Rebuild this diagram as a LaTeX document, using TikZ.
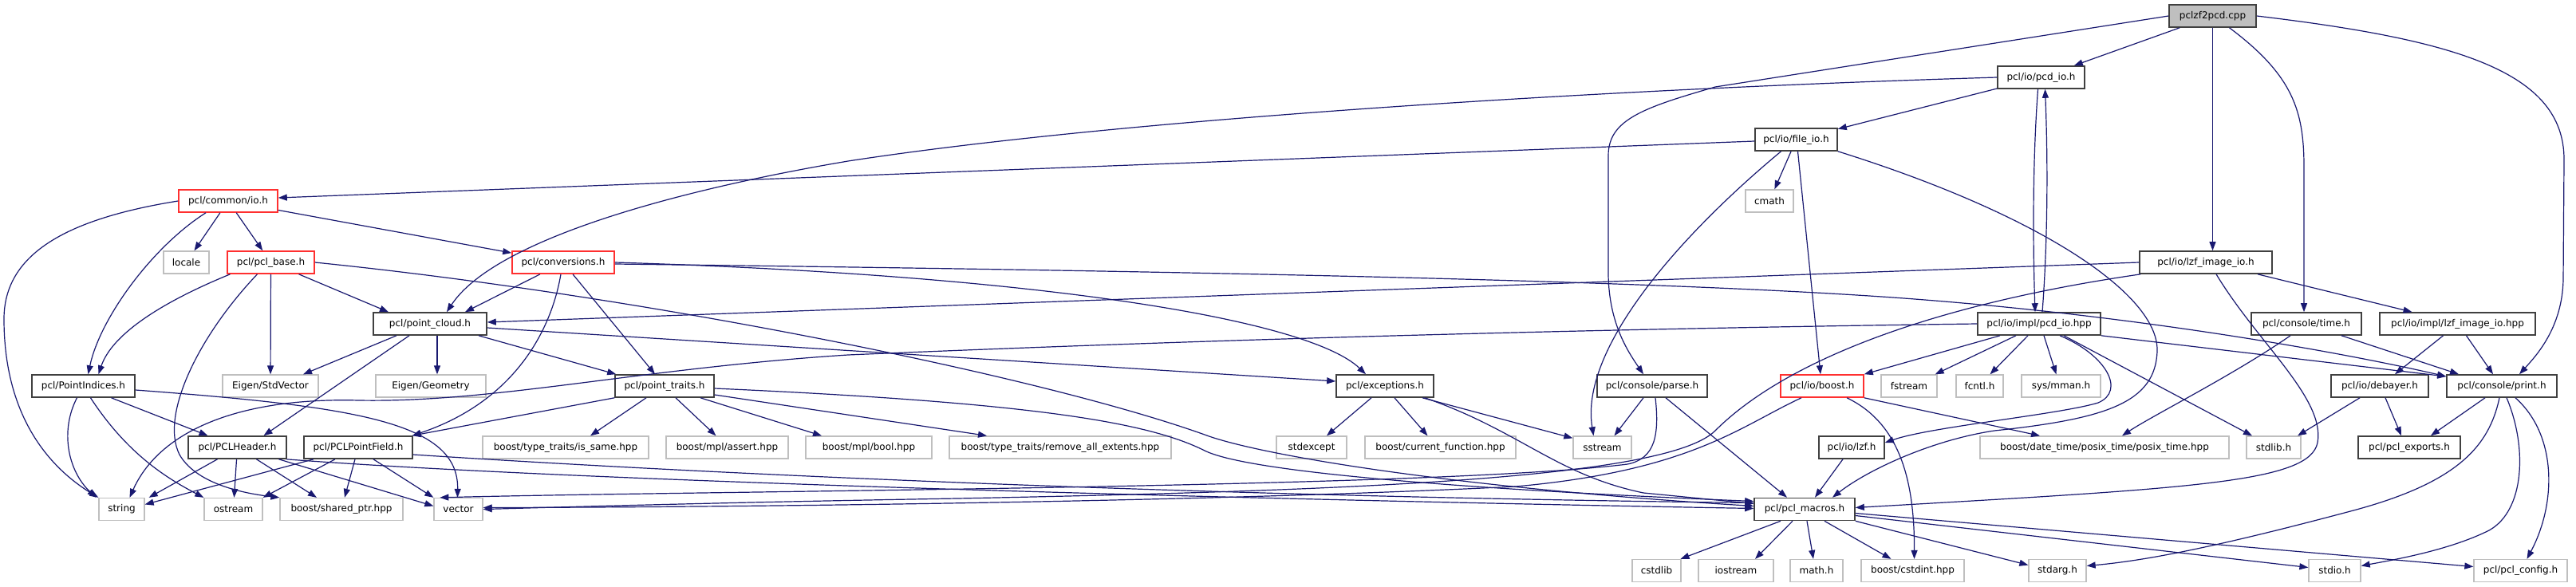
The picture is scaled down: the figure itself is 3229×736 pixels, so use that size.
\documentclass[tikz,border=0pt]{standalone}
\usepackage{fontspec}
\setmainfont{DejaVu Sans}
\usetikzlibrary{arrows.meta,calc}
\definecolor{edgeblue}{HTML}{191970}
\definecolor{docborder}{HTML}{404040}
\definecolor{redborder}{HTML}{FF3030}
\definecolor{extborder}{HTML}{BFBFBF}
\definecolor{rootfill}{HTML}{BFBFBF}
\tikzset{
  box/.style={rectangle, inner sep=0pt, minimum height=28pt, font=\fontsize{12}{14}\selectfont, text=black},
  doc/.style={box, draw=docborder, line width=1.6pt},
  trunc/.style={box, draw=redborder, line width=1.6pt},
  ext/.style={box, draw=extborder, line width=1.3pt},
  root/.style={box, draw=docborder, fill=rootfill, line width=1.6pt},
  edge/.style={draw=edgeblue, line width=1.2pt, -{Triangle[length=11pt,width=8pt]}},
}
\begin{document}
\begin{tikzpicture}[x=1pt,y=-1pt]
\fill[white] (0,0) rectangle (3229,736);
\useasboundingbox (0,0) rectangle (3229,736);

% ---------- nodes ----------
\node[root, minimum width=109pt] (cpp) at (2773.5,20) {pclzf2pcd.cpp};
\node[doc, minimum width=109pt] (pcdioh) at (2558.5,97) {pcl/io/pcd\_io.h};
\node[doc, minimum width=103pt] (fileio) at (2251.5,175) {pcl/io/file\_io.h};
\node[trunc, minimum width=124pt] (commonio) at (286,252) {pcl/common/io.h};
\node[ext, minimum width=60pt] (cmath) at (2218,252) {cmath};
\node[ext, minimum width=57pt] (locale) at (233.5,329) {locale};
\node[trunc, minimum width=109pt] (pclbase) at (339.5,329) {pcl/pcl\_base.h};
\node[trunc, minimum width=128pt] (conversions) at (706,329) {pcl/conversions.h};
\node[doc, minimum width=166pt] (lzfimageio) at (2765,329) {pcl/io/lzf\_image\_io.h};
\node[doc, minimum width=142pt] (pointcloud) at (539,406) {pcl/point\_cloud.h};
\node[doc, minimum width=154pt] (pcdiohpp) at (2556,406) {pcl/io/impl/pcd\_io.hpp};
\node[doc, minimum width=138pt] (consoletime) at (2891,406) {pcl/console/time.h};
\node[doc, minimum width=195pt] (lzfimpl) at (3080.5,406) {pcl/io/impl/lzf\_image\_io.hpp};
\node[doc, minimum width=129pt] (pointindices) at (104.5,484) {pcl/PointIndices.h};
\node[ext, minimum width=120pt] (stdvector) at (339,484) {Eigen/StdVector};
\node[ext, minimum width=138pt] (geometry) at (540,484) {Eigen/Geometry};
\node[doc, minimum width=124pt] (pointtraits) at (833,484) {pcl/point\_traits.h};
\node[doc, minimum width=122pt] (exceptions) at (1736,484) {pcl/exceptions.h};
\node[doc, minimum width=138pt] (parse) at (2071,484) {pcl/console/parse.h};
\node[trunc, minimum width=104pt] (ioboost) at (2284,484) {pcl/io/boost.h};
\node[ext, minimum width=70pt] (fstream) at (2393,484) {fstream};
\node[ext, minimum width=59pt] (fcntl) at (2481.5,484) {fcntl.h};
\node[ext, minimum width=99pt] (mman) at (2583.5,484) {sys/mman.h};
\node[doc, minimum width=122pt] (debayer) at (2983,484) {pcl/io/debayer.h};
\node[doc, minimum width=138pt] (print) at (3136,484) {pcl/console/print.h};
\node[doc, minimum width=123pt] (pclheader) at (297.5,561) {pcl/PCLHeader.h};
\node[doc, minimum width=136pt] (pointfield) at (449,561) {pcl/PCLPointField.h};
\node[ext, minimum width=208pt] (issame) at (709,561) {boost/type\_traits/is\_same.hpp};
\node[ext, minimum width=153pt] (mplassert) at (911.5,561) {boost/mpl/assert.hpp};
\node[ext, minimum width=158pt] (mplbool) at (1089,561) {boost/mpl/bool.hpp};
\node[ext, minimum width=278pt] (removeall) at (1329,561) {boost/type\_traits/remove\_all\_extents.hpp};
\node[ext, minimum width=88pt] (stdexcept) at (1644,561) {stdexcept};
\node[ext, minimum width=189pt] (curfunc) at (1805.5,561) {boost/current\_function.hpp};
\node[ext, minimum width=73pt] (sstream) at (2008.5,561) {sstream};
\node[doc, minimum width=82pt] (lzf) at (2321,561) {pcl/io/lzf.h};
\node[ext, minimum width=312pt] (posix) at (2638,561) {boost/date\_time/posix\_time/posix\_time.hpp};
\node[ext, minimum width=68pt] (stdlib) at (2850,561) {stdlib.h};
\node[doc, minimum width=128pt] (exports) at (3020,561) {pcl/pcl\_exports.h};
\node[ext, minimum width=57pt] (string) at (152.5,638.5) {string};
\node[ext, minimum width=73pt] (ostream) at (292.5,638.5) {ostream};
\node[ext, minimum width=154pt] (sharedptr) at (428,638.5) {boost/shared\_ptr.hpp};
\node[ext, minimum width=61pt] (vector) at (574.5,638.5) {vector};
\node[doc, minimum width=126pt] (macros) at (2262,638.5) {pcl/pcl\_macros.h};
\node[ext, minimum width=61pt] (cstdlib) at (2076.5,715.5) {cstdlib};
\node[ext, minimum width=94pt] (iostream) at (2176,715.5) {iostream};
\node[ext, minimum width=66pt] (mathh) at (2277,715.5) {math.h};
\node[ext, minimum width=129pt] (cstdint) at (2397.5,715.5) {boost/cstdint.hpp};
\node[ext, minimum width=72pt] (stdarg) at (2579,715.5) {stdarg.h};
\node[ext, minimum width=65pt] (stdio) at (2926.5,715.5) {stdio.h};
\node[ext, minimum width=117pt] (config) at (3159.5,715.5) {pcl/pcl\_config.h};

% ---------- edges ----------
% pclzf2pcd.cpp
\draw[edge] (cpp) -- (pcdioh);
\draw[edge] (cpp.south) -- (cpp.south |- lzfimageio.north);
\draw[edge] ([xshift=21pt]cpp.south) .. controls (2875,95) and (2888,140) .. (2888,210) -- ([xshift=-3pt]consoletime.north);
\draw[edge] (cpp.east) .. controls (3080,50) and (3214,90) .. (3214,200) -- (3213,350) .. controls (3212,410) and (3180,445) .. ([xshift=22pt]print.north);
\draw[edge] (cpp.west) -- (2150,109) .. controls (2060,135) and (2016,150) .. (2016,195) -- (2016,345) .. controls (2017,405) and (2040,440) .. ([xshift=-11pt]parse.north);

% pcl/io/pcd_io.h
\draw[edge] (pcdioh) -- (fileio);
\draw[edge] (pcdioh.west) .. controls (2000,112) and (1400,150) .. (1063,202) .. controls (850,238) and (620,300) .. ([xshift=21pt]pointcloud.north);
\draw[edge] ([xshift=-4pt]pcdioh.south) .. controls (2548,200) and (2548,300) .. ([xshift=-5pt]pcdiohpp.north);
\draw[edge] ([xshift=4pt]pcdiohpp.north) .. controls (2567,300) and (2567,200) .. ([xshift=5pt]pcdioh.south);

% pcl/io/file_io.h
\draw[edge] ($(fileio.west)+(0,2)$) -- ($(commonio.east)+(0,-4)$);
\draw[edge] (fileio) -- (cmath);
\draw[edge] ([xshift=2pt]fileio.south) -- ([xshift=-2pt]ioboost.north);
\draw[edge] ([xshift=-19pt]fileio.south) .. controls (2100,300) and (1980,440) .. ([xshift=-11pt]sstream.north);
\draw[edge] (fileio.south east) .. controls (2560,270) and (2706,370) .. (2704,440) .. controls (2702,505) and (2640,525) .. (2500,540) .. controls (2420,552) and (2340,590) .. ([xshift=35pt]macros.north);

% pcl/common/io.h
\draw[edge] (commonio.west) .. controls (80,275) and (5,320) .. (5,400) .. controls (5,520) and (60,585) .. (string.north west);
\draw[edge] ([xshift=-28pt]commonio.south) .. controls (190,310) and (125,400) .. ([xshift=6pt]pointindices.north);
\draw[edge] (commonio) -- (locale);
\draw[edge] (commonio) -- (pclbase);
\draw[edge] (commonio) -- (conversions);

% pcl/pcl_base.h
\draw[edge] ([xshift=-51pt]pclbase.south) .. controls (200,380) and (140,420) .. ([xshift=19pt]pointindices.north);
\draw[edge] ([xshift=-17pt]pclbase.south) .. controls (250,420) and (200,520) .. (225,570) .. controls (245,605) and (300,618) .. (sharedptr.north west);
\draw[edge] (pclbase) -- (stdvector);
\draw[edge] (pclbase) -- ([xshift=-52pt]pointcloud.north);
\draw[edge] (pclbase.east) .. controls (800,370) and (1300,470) .. (1510,545) .. controls (1570,568) and (1800,610) .. ($(macros.west)+(0,-4)$);

% pcl/conversions.h
\draw[edge] ([xshift=-29pt]conversions.south) -- ([xshift=44pt]pointcloud.north);
\draw[edge] ([xshift=-3pt]conversions.south) .. controls (690,420) and (640,505) .. ([xshift=-1pt]pointfield.north east);
\draw[edge] ([xshift=12pt]conversions.south) -- ([xshift=-12pt]pointtraits.north);
\draw[edge] (conversions.east) .. controls (1300,345) and (1640,400) .. ([xshift=-24pt]exceptions.north);
\draw[edge] ($(conversions.east)+(0,2)$) .. controls (1500,340) and (2100,352) .. (2400,375) .. controls (2700,398) and (2950,445) .. ($(print.west)+(0,-12)$);

% pcl/io/lzf_image_io.h
\draw[edge] (lzfimageio.west) -- ($(pointcloud.east)+(0,-2)$);
\draw[edge] ($(lzfimageio.south west)+(2,0)$) .. controls (2400,385) and (2230,460) .. (2150,540) .. controls (2090,600) and (1700,615) .. (1200,625) .. controls (900,630) and (700,636) .. (vector.east);
\draw[edge] ([xshift=13pt]lzfimageio.south) .. controls (2830,430) and (2915,500) .. (2905,555) .. controls (2895,605) and (2750,612) .. ($(macros.east)+(0,-2)$);
\draw[edge] ([xshift=65pt]lzfimageio.south) -- ([xshift=-57pt]lzfimpl.north);

% pcl/io/impl/pcd_io.hpp
\draw[edge] ([xshift=-49pt]pcdiohpp.south) -- (ioboost.north east);
\draw[edge] ([xshift=-29pt]pcdiohpp.south) -- ([xshift=-3pt]fstream.north east);
\draw[edge] ([xshift=-14pt]pcdiohpp.south) -- ([xshift=13pt]fcntl.north);
\draw[edge] ([xshift=6pt]pcdiohpp.south) -- ([xshift=-6pt]mman.north);
\draw[edge] ([xshift=26pt]pcdiohpp.south) .. controls (2640,445) and (2665,490) .. (2630,505) .. controls (2580,520) and (2420,535) .. ($(lzf.east)+(0,-6)$);
\draw[edge] ([xshift=31pt]pcdiohpp.south) -- ([xshift=-27pt]stdlib.north);
\draw[edge] (pcdiohpp.south east) -- ($(print.west)+(0,-12)$);
\draw[edge] (pcdiohpp.west) .. controls (1800,415) and (1300,435) .. (1063,445) .. controls (800,462) and (620,505) .. (450,502) .. controls (300,498) and (200,540) .. ([xshift=10pt]string.north);

% pcl/console/parse.h
\draw[edge] ([xshift=-11pt]parse.south) -- ([xshift=15pt]sstream.north);
\draw[edge] ([xshift=4pt]parse.south) .. controls (2080,545) and (2075,575) .. (2040,582) .. controls (1800,612) and (900,615) .. ($(vector.north west)+(8,0)$);
\draw[edge] ([xshift=17pt]parse.south) -- ([xshift=-22pt]macros.north);

% pcl/io/boost.h
\draw[edge] ([xshift=31pt]ioboost.south) .. controls (2380,530) and (2400,600) .. ([xshift=2pt]cstdint.north);
\draw[edge] (ioboost.south east) -- ([xshift=-81pt]posix.north);
\draw[edge] ([xshift=-26pt]ioboost.south) .. controls (2180,535) and (2120,590) .. (1900,610) .. controls (1500,630) and (900,636) .. ($(vector.east)+(0,-2)$);

% pcl/io/lzf.h
\draw[edge] ([xshift=-11pt]lzf.south) -- ([xshift=13pt]macros.north);

% pcl/console/time.h
\draw[edge] ([xshift=-20pt]consoletime.south) .. controls (2800,470) and (2700,520) .. ([xshift=22pt]posix.north);
\draw[edge] ([xshift=44pt]consoletime.south) -- ([xshift=-54pt]print.north);

% pcl/io/impl/lzf_image_io.hpp
\draw[edge] ([xshift=-18pt]lzfimpl.south) -- ([xshift=19pt]debayer.north);
\draw[edge] ([xshift=11pt]lzfimpl.south) -- ([xshift=-11pt]print.north);

% pcl/io/debayer.h
\draw[edge] ([xshift=-25pt]debayer.south) -- ([xshift=30pt]stdlib.north);
\draw[edge] ([xshift=7pt]debayer.south) -- ([xshift=-10pt]exports.north);

% pcl/console/print.h
\draw[edge] ([xshift=-21pt]print.south) -- ([xshift=27pt]exports.north);
\draw[edge] ([xshift=-3pt]print.south) .. controls (3120,560) and (3080,605) .. (2950,640) .. controls (2800,680) and (2700,702) .. ($(stdarg.east)+(0,-6)$);
\draw[edge] ([xshift=6pt]print.south) .. controls (3168,560) and (3165,640) .. (3120,665) .. controls (3070,690) and (3000,702) .. ($(stdio.east)+(0,-6)$);
\draw[edge] ([xshift=17pt]print.south) .. controls (3205,545) and (3205,630) .. ([xshift=8pt]config.north);

% pcl/pcl_macros.h
\draw[edge] ([xshift=-30pt]macros.south) -- ([xshift=30pt]cstdlib.north);
\draw[edge] ([xshift=-15pt]macros.south) -- ([xshift=24pt]iostream.north);
\draw[edge] ([xshift=3pt]macros.south) -- ([xshift=-4pt]mathh.north);
\draw[edge] ([xshift=25pt]macros.south) -- ([xshift=-27pt]cstdint.north);
\draw[edge] (macros.south east) -- ($(stdarg.west)+(0,-7)$);
\draw[edge] ($(macros.east)+(0,8)$) -- ($(stdio.west)+(0,-4)$);
\draw[edge] ($(macros.east)+(0,5)$) -- ($(config.west)+(0,-5)$);

% pcl/point_cloud.h
\draw[edge] ([xshift=-42pt]pointcloud.south) -- ([xshift=41pt]stdvector.north);
\draw[edge] ([xshift=9pt]pointcloud.south) -- ([xshift=8pt]geometry.north);
\draw[edge] ([xshift=61pt]pointcloud.south) -- ($(pointtraits.north west)+(2,0)$);
\draw[edge] ($(pointcloud.east)+(0,5)$) -- ($(exceptions.west)+(0,-6)$);
\draw[edge] ([xshift=-26pt]pointcloud.south) -- ([xshift=33pt]pclheader.north);

% pcl/PointIndices.h
\draw[edge] ([xshift=-8pt]pointindices.south) .. controls (75,540) and (85,590) .. ($(string.north west)+(-3,0)$);
\draw[edge] ([xshift=9pt]pointindices.south) .. controls (160,570) and (210,600) .. (ostream.north west);
\draw[edge] ([xshift=35pt]pointindices.south) -- ([xshift=-37pt]pclheader.north);
\draw[edge] ($(pointindices.east)+(0,5)$) .. controls (450,510) and (575,530) .. ([xshift=-1pt]vector.north);

% pcl/PCLHeader.h
\draw[edge] ([xshift=-25pt]pclheader.south) -- ($(string.north east)+(5,0)$);
\draw[edge] (pclheader) -- (ostream);
\draw[edge] ([xshift=24pt]pclheader.south) -- ([xshift=-31pt]sharedptr.north);
\draw[edge] ([xshift=52pt]pclheader.south) -- ($(vector.west)+(0,-4)$);
\draw[edge] ($(pclheader.south east)+(-1,0)$) .. controls (700,602) and (1500,625) .. ($(macros.west)+(0,-1)$);

% pcl/PCLPointField.h
\draw[edge] ([xshift=-56pt]pointfield.south) -- ($(string.east)+(0,-6)$);
\draw[edge] ([xshift=-29pt]pointfield.south) -- (ostream.north east);
\draw[edge] ([xshift=-4pt]pointfield.south) -- ([xshift=4pt]sharedptr.north);
\draw[edge] ([xshift=19pt]pointfield.south) -- (vector.north west);
\draw[edge] ($(pointfield.east)+(0,9)$) .. controls (900,595) and (1500,622) .. ($(macros.west)+(0,-8)$);

% pcl/point_traits.h
\draw[edge] ([xshift=-23pt]pointtraits.south) -- ([xshift=31pt]issame.north);
\draw[edge] ([xshift=14pt]pointtraits.south) -- ([xshift=-14pt]mplassert.north);
\draw[edge] ([xshift=45pt]pointtraits.south) -- ([xshift=-59pt]mplbool.north);
\draw[edge] ($(pointtraits.east)+(0,11)$) -- ([xshift=-92pt]removeall.north);
\draw[edge] ($(pointtraits.east)+(0,3)$) .. controls (1300,505) and (1440,530) .. (1510,565) .. controls (1560,590) and (1800,612) .. ($(macros.west)+(0,-10)$);
\draw[edge] (pointtraits.south west) -- ([xshift=-1pt]pointfield.north east);

% pcl/exceptions.h
\draw[edge] ([xshift=-17pt]exceptions.south) -- ([xshift=19pt]stdexcept.north);
\draw[edge] ([xshift=12pt]exceptions.south) -- ([xshift=-16pt]curfunc.north);
\draw[edge] ([xshift=47pt]exceptions.south) -- ($(sstream.north west)+(0,3)$);
\draw[edge] ([xshift=50pt]exceptions.south) .. controls (1905,540) and (1950,595) .. (2060,618) -- ($(macros.west)+(0,-7)$);
\end{tikzpicture}
\end{document}
